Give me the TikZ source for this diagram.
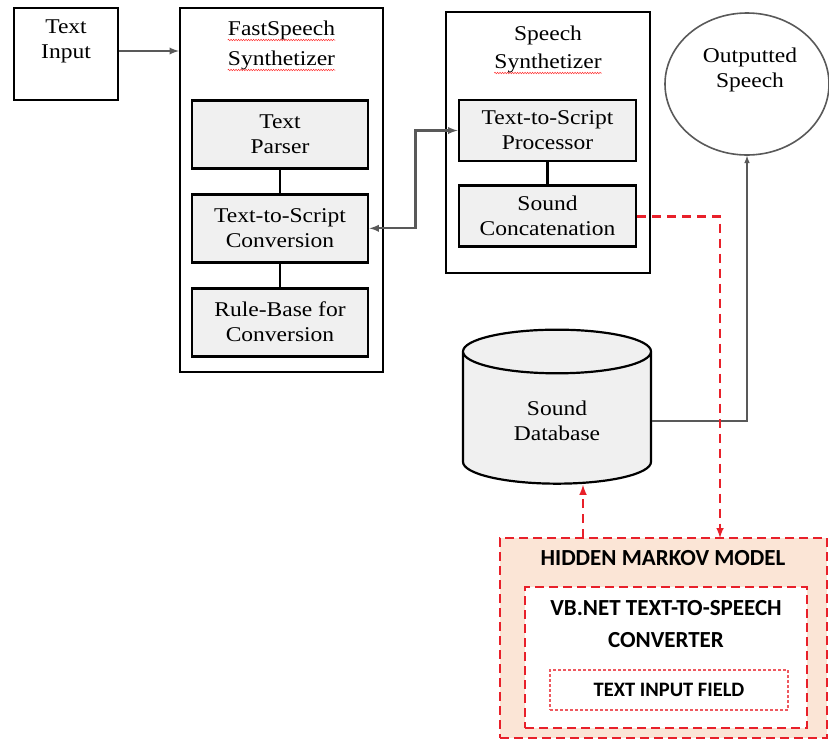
\documentclass[tikz,border=0pt]{standalone}
\usepackage{fontspec}
\setmainfont{Liberation Serif}[FakeStretch=1.12]
\newfontfamily\calibri{Carlito}
\usetikzlibrary{arrows,shapes,positioning,calc,decorations.pathmorphing}
\definecolor{peach}{HTML}{FBE5D6}
\definecolor{dashred}{HTML}{E8202A}
\definecolor{linegray}{HTML}{595959}
\newcommand{\serifsize}{\fontsize{21}{25}\selectfont}
\newcommand{\capsize}{\calibri\bfseries\fontsize{23}{32}\selectfont}

\begin{document}
\begin{tikzpicture}[x=1pt, y=-1pt, node distance=23pt, >=latex,
    outer/.style={draw, rectangle, line width=2.2pt, inner sep=0pt},
    inner/.style={draw, rectangle, line width=2.8pt, fill=gray!12,
        minimum width=176pt, minimum height=68pt, align=center, font=\serifsize},
    title/.style={inner sep=0pt, anchor=base, font=\serifsize},
    wavy/.style={red!80, line width=0.5pt, decorate,
        decoration={snake, amplitude=0.7pt, segment length=2.5pt}},
    hmmline/.style={draw=dashred, line width=2.4pt, dash pattern=on 9pt off 5pt}]
    \useasboundingbox (0,0) rectangle (829,740);

    % input
    \node[outer, minimum width=104pt, minimum height=92pt] (tin) at (66,54) {};
    \node[align=center, font=\serifsize] (tin-t) at (66,41) {Text\\Input};

    % fastspeech
    \node[outer, minimum width=203pt, minimum height=364pt] (fs) at (281.5,190) {};
    \node[title] (fs-t1) at (281.5,35) {FastSpeech};
    \node[title] (fs-t2) at (281.5,65) {Synthetizer};
    \node[inner] (parser) at (280,134.5) {Text\\Parser};
    \node[inner, below=of parser] (conv) {Text-to-Script\\Conversion};
    \node[inner, below=of conv] (rule) {Rule-Base for\\Conversion};
    \draw[line width=2.2pt] (parser) -- (conv);
    \draw[line width=2.2pt] (conv) -- (rule);

    % speech
    \node[outer, minimum width=204pt, minimum height=261pt] (ss) at (548,142.5) {};
    \node[title] (ss-t1) at (548,40) {Speech};
    \node[title] (ss-t2) at (548,68) {Synthetizer};
    \node[inner, minimum width=177pt, minimum height=61pt] (proc) at (547.5,130.5) {Text-to-Script\\Processor};
    \node[inner, minimum width=177pt, minimum height=61pt, below=22pt of proc] (concat) {Sound\\Concatenation};
    \draw[line width=2.2pt] (proc) -- (concat);

    \draw[wavy] ([yshift=-5pt]fs-t1.base west) -- ([yshift=-5pt]fs-t1.base east);
    \draw[wavy] ([yshift=-5pt]fs-t2.base west) -- ([yshift=-5pt]fs-t2.base east);
    \draw[wavy] ([yshift=-5pt]ss-t2.base west) -- ([yshift=-5pt]ss-t2.base east);

    % output and database
    \node[draw=linegray, ellipse, line width=1.6pt, minimum width=164pt, minimum height=142pt] (out) at (747,84) {};
    \node[align=center, font=\serifsize] (out-t) at (750,70) {Outputted\\Speech};
    \node[draw, cylinder, shape border rotate=90, line width=2.2pt, fill=gray!12, aspect=0.47,
        minimum width=188pt, minimum height=154pt, align=center, font=\serifsize] (db) at (557,421) {Sound\\Database};

    % hidden markov model
    \node[hmmline, fill=peach, minimum width=327pt, minimum height=200pt] (hmm) at (663.5,638) {};
    \node[font=\capsize] (hmm-t) at (663,558) {HIDDEN MARKOV MODEL};
    \node[hmmline, fill=white, minimum width=282pt, minimum height=141pt] (vb) at (666,657.5) {};
    \node[font=\capsize, align=center] (vb-t) at (666,624) {VB.NET TEXT-TO-SPEECH\\CONVERTER};
    \node[draw=dashred!75, line width=1.1pt, dash pattern=on 3pt off 2pt, minimum width=238pt, minimum height=40pt,
        font=\calibri\bfseries\fontsize{20.5}{22}\selectfont] (field) at (669,690) {TEXT INPUT FIELD};

    % connectors
    \coordinate (drop) at (720,538);
    \coordinate (rise) at (583,538);
    \draw[->, draw=linegray, line width=2.2pt] (tin.east |- 0,51) -- (fs.west |- 0,51);
    \draw[<->, draw=linegray, line width=2.2pt] (conv.east) -- ++(46,0) |- (proc.west);
    \draw[->, draw=linegray, line width=1.5pt] (db.east) -| (out.south);
    \draw[->, hmmline, dash pattern=on 9pt off 6pt] (concat.east) -| (drop);
    \draw[->, hmmline, dash pattern=on 9pt off 6pt] (rise) -- (rise |- db.south);
\end{tikzpicture}
\end{document}
